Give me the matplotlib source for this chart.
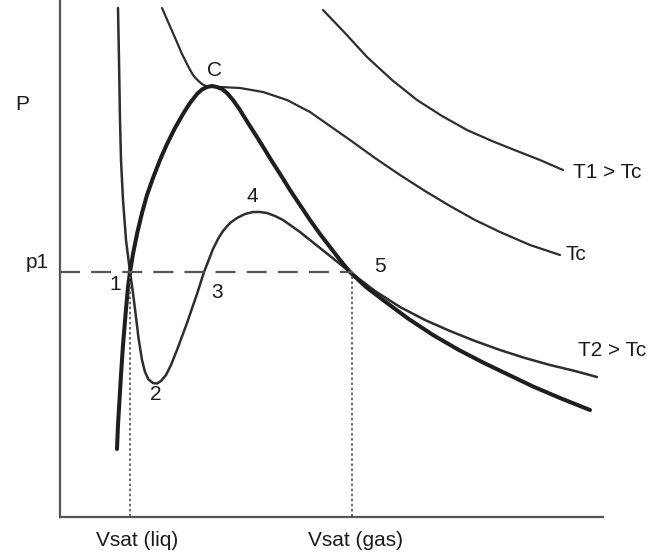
import numpy as np
import matplotlib
matplotlib.use("Agg")
import matplotlib.pyplot as plt

# values: volume V and pressure P in arbitrary units
# (origin at the corner of the axes)
v_t1 = [263, 285, 307, 332, 357, 382, 407, 432, 457, 480, 503]
p_t1 = [507, 484, 460, 437, 417, 401, 387, 376, 366, 357, 347]

v_tc = [102, 109, 116, 122, 128, 133, 136, 139, 142, 145, 148, 152, 160, 180, 203, 227,
        250, 290, 315, 340, 365, 390, 415, 440, 470, 500]
p_tc = [509, 493, 477, 463, 451, 442, 438.5, 435.5, 433, 431.3, 430.4, 430, 430, 429,
        425, 417, 405, 377, 359, 342, 326, 311, 297, 285, 272, 262]

v_t2 = [58, 59, 60, 61, 63, 66, 70, 73, 75.5, 78.5, 82, 85, 88.5, 93, 97, 101, 106, 111,
        117, 127, 137, 144, 153, 158, 163, 170, 177, 185, 193, 200, 207, 215, 223, 240,
        265, 290, 315, 340, 365, 390, 415, 440, 465, 490, 515, 537]
p_t2 = [509, 457, 397, 357, 317, 277, 245, 224, 204, 179, 157, 145, 137.5, 134, 133.5,
        136, 142, 152, 167, 194, 223, 245, 268, 278, 286, 294, 299, 303, 305, 305, 304,
        301, 297, 285, 265, 245, 226, 210, 197, 186, 176, 167, 159, 152, 146, 140]

v_dome = [57, 58, 59.5, 61, 63, 65.5, 68, 70, 73, 77, 82, 87, 93, 100, 107, 115, 123,
          130, 137, 142, 147, 152, 157, 162, 167, 173, 180, 188, 197, 205, 213, 222, 230,
          240, 250, 260, 270, 280, 290, 306, 323, 348, 373, 398, 423, 448, 473, 500, 530]
p_dome = [68, 92, 117, 142, 172, 202, 230, 245, 263, 283, 304, 322, 339, 357, 373, 389,
          403, 414, 423, 427.5, 430, 431, 430, 428, 424, 417, 407, 394, 380, 367, 354, 340,
          327, 312, 297, 283, 270, 257, 245, 230, 217, 198.5, 182, 167.5, 154.5, 142.5,
          130.5, 119, 107]

p1 = 245
v_sat = [70, 292]

labels = ["C", "1", "2", "3", "4", "5"]
label_v = [155, 55, 96, 157, 192, 320]
label_p = [447, 232, 122, 225, 320, 250]

curve_names = ["T1 > Tc", "Tc", "T2 > Tc"]
curve_name_v = [513, 505, 518]
curve_name_p = [345, 262, 167]

ink = "#2e2e2e"
plt.rcParams["font.family"] = ["Liberation Sans", "DejaVu Sans"]

fig = plt.figure(figsize=(6.61, 5.53), dpi=100)
ax = fig.add_axes([0, 0, 1, 1])
ax.set_xlim(-60, 601)
ax.set_ylim(-36, 517)
ax.axis("off")

# axes drawn by hand like the sketch
ax.plot([0, 0], [0, 517], color="#555555", lw=1.6)
ax.plot([0, 543], [0, 0], color="#555555", lw=1.6)

ax.plot(v_t1, p_t1, color=ink, lw=1.6, solid_capstyle="round", solid_joinstyle="round")
ax.plot(v_tc, p_tc, color=ink, lw=1.6, solid_capstyle="round", solid_joinstyle="round")
ax.plot(v_t2, p_t2, color=ink, lw=1.8, solid_capstyle="round", solid_joinstyle="round")
ax.plot(v_dome, p_dome, color="#1e1e1e", lw=2.9, solid_capstyle="round",
        solid_joinstyle="round")

ax.plot([0, v_sat[1]], [p1, p1], color="#555555", lw=1.6, dashes=(9, 5))
for v in v_sat:
    ax.plot([v, v], [p1, 0], color="#555555", lw=1.3, dashes=(0.6, 2.2),
            dash_capstyle="round")

for s, x, y in zip(labels, label_v, label_p):
    ax.text(x, y, s, fontsize=15, ha="center", va="center", color="#1a1a1a")

for s, x, y in zip(curve_names, curve_name_v, curve_name_p):
    ax.text(x, y, s, fontsize=15, ha="left", va="center", color="#1a1a1a")

ax.text(-38, 412, "P", fontsize=15, ha="center", va="center", color="#1a1a1a")
ax.text(-23, 255, "p1", fontsize=15, ha="center", va="center", color="#1a1a1a")
ax.text(v_sat[0] + 7, -23, "Vsat (liq)", fontsize=15, ha="center", va="center", color="#1a1a1a")
ax.text(v_sat[1] + 3, -23, "Vsat (gas)", fontsize=15, ha="center", va="center", color="#1a1a1a")

fig.savefig("out.png", dpi=100)
